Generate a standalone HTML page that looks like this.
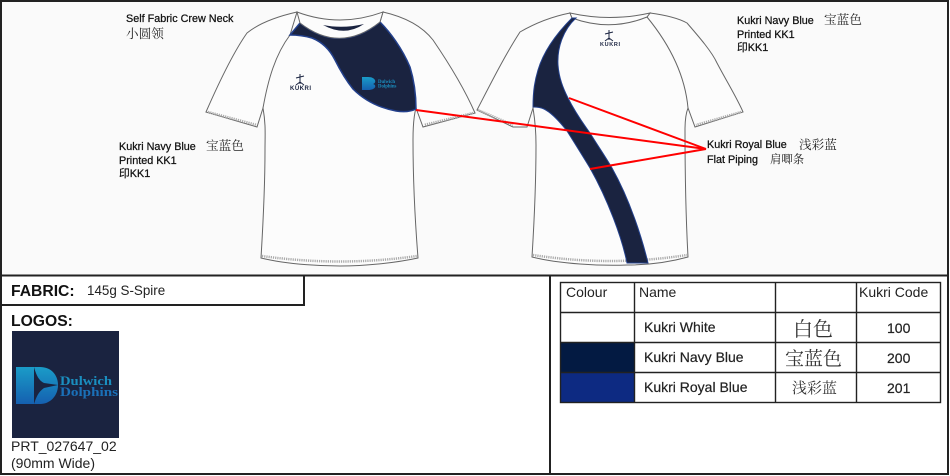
<!DOCTYPE html>
<html><head><meta charset="utf-8"><style>
html,body{margin:0;padding:0;background:#fff;width:950px;height:476px;overflow:hidden}
svg{display:block}
.a{font-family:"Liberation Sans","Noto Sans CJK SC",sans-serif;font-size:10.8px;fill:#111;stroke:#111;stroke-width:.25px}
.c{font-family:"Noto Serif CJK SC","Liberation Serif",serif;font-size:12.6px;fill:#222}
.t{font-family:"Liberation Sans",sans-serif;font-size:14px;fill:#222}
.h{font-family:"Liberation Sans",sans-serif;font-size:15.7px;font-weight:bold;fill:#111}
.s{fill:#fcfcfc;stroke:#666;stroke-width:1}
.st{fill:none;stroke:#aaa;stroke-width:2.5;stroke-dasharray:1.2 1}
</style></head><body>
<svg width="950" height="476" viewBox="0 0 950 476" xmlns="http://www.w3.org/2000/svg">
<defs><linearGradient id="g" x1="0" y1="0" x2="0" y2="1"><stop offset="0" stop-color="#1a9cc8"/><stop offset="1" stop-color="#1560b0"/></linearGradient></defs>
<rect width="950" height="476" fill="#fff"/>
<rect x="1" y="1" width="947" height="274" fill="#fafafa"/>

<!-- FRONT -->
<path class="s" d="M297 12 C275 17 258 24 247 33 C235 50 220 80 206 112 L257 127 L263 108 L290 35 Z"/>
<path class="s" d="M383 12 C405 17 422 26 433 40 C448 62 465 90 475 113 L423 127 L416 108 L380 22 Z"/>
<path class="s" d="M290 35 C275 55 268 80 263 108 C266 125 265 135 265 150 C265 190 263 225 261 258 C290 265 325 266 340 266 C365 266 395 263 418 258 C415 220 413 180 413 140 C413 125 414 115 416 108 L380 22 L300 23 Z"/>
<path d="M290 35 L300 23 Q340 54 380 22 C390 32 402 48 410 67 C414 80 416 95 416 109 C410 112 402 112 396 111 C380 108 365 101 353 89 C345 79 340 70 335 60 C330 50 322 42 312 38 C305 36 297 35 290 35 Z" fill="#1a2340" stroke="#23408c" stroke-width="1.5"/>
<path d="M297 12 Q340 28 383 12 L380 22 Q340 54 300 23 Z" fill="#fcfcfc" stroke="#666" stroke-width="1"/>
<path d="M323 25 Q343 29 364 24 Q345 37 323 25Z" fill="#1a2340"/>
<path class="st" d="M208 112 L257 125"/><path class="st" d="M473 113 L424 125"/>
<path class="st" d="M262 256 Q340 267 417 256"/>
<path d="M362 77 H368 C376 77 377 83 373 84 C377 85 376 90 368 90 H362 Z" fill="url(#g)"/>
<text x="378" y="83" font-family="Liberation Serif,serif" font-size="4.8" font-weight="bold" fill="#1a8fc0">Dulwich</text>
<text x="378" y="87.5" font-family="Liberation Serif,serif" font-size="4.8" font-weight="bold" fill="#1a8fc0">Dolphins</text>
<path d="M300 74 V84 M296 78 L304 76 M300 82 L296 85 M300 82 L304 85" stroke="#1a2340" stroke-width="1" fill="none"/>
<text x="290" y="90" font-family="Liberation Sans,sans-serif" font-size="6" font-weight="bold" fill="#1a2340" textLength="21">KUKRI</text>

<!-- BACK -->
<path class="s" d="M570 13 C550 17 532 25 520 32 C505 55 490 85 477 110 L513 127 L527 127 L533 108 L572 18 Z"/>
<path class="s" d="M650 13 C665 15 678 18 687 23 C700 38 712 52 717 63 C727 82 737 98 743 112 L695 127 L688 108 L647 17 Z"/>
<path class="s" d="M572 18 C552 45 537 75 533 108 C535 120 536 130 536 145 C536 190 534 225 532 257 C560 264 600 266 627 265 C650 265 670 262 688 257 C686 220 685 170 685 130 C685 120 686 113 688 108 C685 75 670 45 647 17 Z"/>
<path d="M570 13 Q610 22 650 13 L647 17 Q610 32 572 18 Z" fill="#fcfcfc" stroke="#666" stroke-width="1"/>
<path class="st" d="M478 110 L513 125"/><path class="st" d="M741 112 L696 125"/>
<path class="st" d="M533 255 Q610 267 687 255"/>
<path d="M576 18 C563 30 557 48 558 65 C559 78 563 88 568 98 C575 112 582 122 590 133 C598 146 605 156 612 168 C630 200 642 238 648 263 L627 263 C622 238 608 200 590 168 C582 155 574 142 567 131 C560 122 552 113 544 109 C540 107 536 107 533 107 C533 90 535 80 538 70 C544 50 558 32 572 18 Z" fill="#1a2340" stroke="#23408c" stroke-width="1"/>
<path d="M609 30 V40 M605 34 L613 32 M609 38 L605 41 M609 38 L613 41" stroke="#1a2340" stroke-width="1" fill="none"/>
<text x="600" y="46" font-family="Liberation Sans,sans-serif" font-size="5.5" font-weight="bold" fill="#1a2340" textLength="20">KUKRI</text>

<!-- RED LINES -->
<g stroke="#f00" stroke-width="2" fill="none">
<path d="M416 110 L706 149"/><path d="M569 98 L706 149"/><path d="M590 169 L706 149"/>
</g>

<!-- LABELS -->
<text class="a" x="126" y="22">Self Fabric Crew Neck</text>
<text class="c" x="126" y="38">小圆领</text>
<text class="a" x="119" y="150">Kukri Navy Blue</text><text class="c" x="206" y="150">宝蓝色</text>
<text class="a" x="119" y="164">Printed KK1</text>
<text class="a" x="119" y="177">印KK1</text>
<text class="a" x="737" y="24">Kukri Navy Blue</text><text class="c" x="824" y="24">宝蓝色</text>
<text class="a" x="737" y="38">Printed KK1</text>
<text class="a" x="737" y="51">印KK1</text>
<text class="a" x="707" y="148">Kukri Royal Blue</text><text class="c" x="799" y="149">浅彩蓝</text>
<text class="a" x="707" y="163">Flat Piping</text><text class="c" x="770" y="163" style="font-size:11.4px">肩唧条</text>

<!-- FRAME -->
<g stroke="#222" fill="none">
<rect x="1" y="1" width="947" height="473" stroke-width="2"/>
<path d="M1 275.5 H948 M550 276 V474" stroke-width="2"/>
<path d="M1 305 H304 V276" stroke-width="2"/>
</g>

<text class="h" x="11" y="296">FABRIC:</text>
<text class="t" x="87" y="295" style="font-size:13.4px">145g S-Spire</text>
<text class="h" x="11" y="326">LOGOS:</text>
<rect x="12" y="331" width="107" height="107" fill="#1a2340"/>
<path d="M16 367 H40 C52 367 58 376 58 385 C58 396 50 404 40 404 H16 Z" fill="url(#g)"/>
<path d="M34 367 C36 374 38 380 44 383 L58 385 L44 388 C38 392 36 398 34 404 Z" fill="#1a2340"/>
<text x="60" y="385" font-family="Liberation Serif,serif" font-size="13" font-weight="bold" fill="#1a8fc0" textLength="52" lengthAdjust="spacingAndGlyphs">Dulwich</text>
<text x="60" y="396" font-family="Liberation Serif,serif" font-size="13" font-weight="bold" fill="#1a70b8" textLength="58" lengthAdjust="spacingAndGlyphs">Dolphins</text>
<text class="t" x="11" y="451" style="font-size:14px">PRT_027647_02</text>
<text class="t" x="11" y="468">(90mm Wide)</text>

<!-- TABLE -->
<rect x="560" y="342" width="74" height="30" fill="#031a42"/>
<rect x="560" y="372" width="74" height="30" fill="#0d2a82"/>
<g stroke="#222" stroke-width="1.4" fill="none">
<rect x="560.5" y="282.5" width="380" height="120"/>
<path d="M560 312.5 H941 M560 342.5 H941 M560 372.5 H941 M634.5 282 V402 M775.5 282 V402 M856.5 282 V402"/>
</g>
<g style="font-family:'Liberation Sans',sans-serif;font-size:14px;fill:#222">
<text x="566" y="297">Colour</text><text x="639" y="297">Name</text><text x="859" y="297">Kukri Code</text>
<g style="stroke:#222;stroke-width:.2px">
<text x="644" y="332">Kukri White</text><text x="644" y="362">Kukri Navy Blue</text><text x="644" y="392">Kukri Royal Blue</text>
<text x="887" y="333">100</text><text x="887" y="363">200</text><text x="887" y="393">201</text>
</g>
</g>
<g style="font-family:'Noto Serif CJK SC',serif;fill:#333">
<text x="793" y="336" font-size="20">白色</text>
<text x="785" y="365" font-size="19">宝蓝色</text>
<text x="792" y="393" font-size="15">浅彩蓝</text>
</g>
</svg>
</body></html>
